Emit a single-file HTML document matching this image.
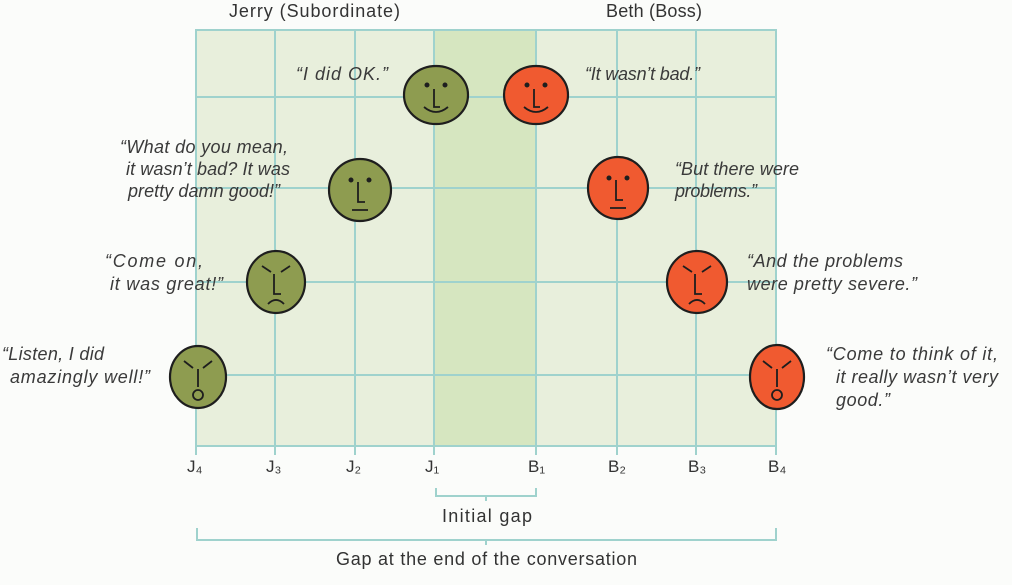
<!DOCTYPE html>
<html><head><meta charset="utf-8"><style>
body{margin:0;background:#fff;}
svg{display:block;}
text{font-family:"Liberation Sans",sans-serif;fill:#333;}
.q{font-style:italic;font-size:18px;fill:#3a3a3a;}
.t{font-size:18px;}
</style></head><body>
<svg width="1012" height="585" viewBox="0 0 1012 585">
<defs>
<g id="eyes"><circle cx="-9" cy="-10" r="1.6" fill="#222"/><circle cx="9" cy="-10" r="1.6" fill="#222"/></g>
</defs>
<rect x="0" y="0" width="1012" height="585" fill="#fbfcfa"/>
<rect x="196" y="30" width="580" height="416" fill="#e8efdc"/>
<rect x="434" y="30" width="102" height="416" fill="#d6e6c0"/>
<g stroke="#9fd2cd" stroke-width="2" fill="none">
<rect x="196" y="30" width="580" height="416"/>
<line x1="275" y1="30" x2="275" y2="455"/><line x1="355" y1="30" x2="355" y2="455"/>
<line x1="434" y1="30" x2="434" y2="455"/><line x1="536" y1="30" x2="536" y2="455"/>
<line x1="617" y1="30" x2="617" y2="455"/><line x1="696" y1="30" x2="696" y2="455"/>
<line x1="196" y1="446" x2="196" y2="455"/><line x1="776" y1="446" x2="776" y2="455"/>
<line x1="196" y1="97" x2="776" y2="97"/><line x1="196" y1="188" x2="776" y2="188"/>
<line x1="196" y1="282" x2="776" y2="282"/><line x1="196" y1="375" x2="776" y2="375"/>
<path d="M436 488 V496 H536 V488 M486 496 V501"/>
<path d="M197 528 V540 H776 V528 M486 540 V545"/>
</g>
<text class="t" x="229" y="17" textLength="171">Jerry (Subordinate)</text>
<text class="t" x="606" y="17" textLength="96">Beth (Boss)</text>
<g class="t" style="font-size:17px">
<text x="187" y="472">J₄</text><text x="266" y="472">J₃</text><text x="346" y="472">J₂</text><text x="425" y="472">J₁</text>
<text x="528" y="472">B₁</text><text x="608" y="472">B₂</text><text x="688" y="472">B₃</text><text x="768" y="472">B₄</text>
</g>
<text class="t" x="442" y="522" textLength="90">Initial gap</text>
<text class="t" x="336" y="565" textLength="301">Gap at the end of the conversation</text>
<g stroke="#1e1e1e" stroke-width="2.2">
<ellipse cx="436" cy="95" rx="32" ry="29" fill="#8e9c50"/>
<ellipse cx="536" cy="95" rx="32" ry="29" fill="#f05a30"/>
<ellipse cx="360" cy="190" rx="31" ry="31" fill="#8e9c50"/>
<ellipse cx="618" cy="188" rx="30" ry="31" fill="#f05a30"/>
<ellipse cx="276" cy="282" rx="29" ry="31" fill="#8e9c50"/>
<ellipse cx="697" cy="282" rx="30" ry="31" fill="#f05a30"/>
<ellipse cx="198" cy="377" rx="28" ry="31" fill="#8e9c50"/>
<ellipse cx="777" cy="377" rx="27" ry="32" fill="#f05a30"/>
</g>
<g stroke="#1e1e1e" stroke-width="1.8" fill="none">
<g transform="translate(436,95)"><use href="#eyes"/><path d="M-2 -6 V12 H4 M-12 12 Q0 22 12 12"/></g>
<g transform="translate(536,95)"><use href="#eyes"/><path d="M-2 -6 V12 H4 M-12 12 Q0 22 12 12"/></g>
<g transform="translate(360,190)"><use href="#eyes"/><path d="M-2 -8 V12 H5 M-8 20 H8"/></g>
<g transform="translate(618,188)"><use href="#eyes"/><path d="M-2 -8 V12 H5 M-8 20 H8"/></g>
<g transform="translate(276,282)"><path d="M-14 -16 L-5 -10 M14 -16 L5 -10 M-2 -8 V12 H5 M-8 22 Q0 14 8 22"/></g>
<g transform="translate(697,282)"><path d="M-14 -16 L-5 -10 M14 -16 L5 -10 M-2 -8 V12 H5 M-8 22 Q0 14 8 22"/></g>
<g transform="translate(198,377)"><path d="M-14 -16 L-5 -9 M14 -16 L5 -9 M0 -8 V10"/><circle cx="0" cy="18" r="5"/></g>
<g transform="translate(777,377)"><path d="M-14 -16 L-5 -9 M14 -16 L5 -9 M0 -8 V10"/><circle cx="0" cy="18" r="5"/></g>
</g>
<text class="q" x="296" y="80" textLength="92">“I did OK.”</text>
<text class="q" x="585" y="80" textLength="115">“It wasn’t bad.”</text>
<text class="q" x="120" y="153" textLength="168">“What do you mean,</text>
<text class="q" x="126" y="175" textLength="164">it wasn’t bad? It was</text>
<text class="q" x="128" y="197" textLength="152">pretty damn good!”</text>
<text class="q" x="675" y="175" textLength="124">“But there were</text>
<text class="q" x="675" y="197" textLength="82">problems.”</text>
<text class="q" x="105" y="267" textLength="98">“Come on,</text>
<text class="q" x="110" y="290" textLength="113">it was great!”</text>
<text class="q" x="747" y="267" textLength="156">“And the problems</text>
<text class="q" x="747" y="290" textLength="170">were pretty severe.”</text>
<text class="q" x="2" y="360" textLength="102">“Listen, I did</text>
<text class="q" x="10" y="383" textLength="140">amazingly well!”</text>
<text class="q" x="826" y="360" textLength="172">“Come to think of it,</text>
<text class="q" x="836" y="383" textLength="162">it really wasn’t very</text>
<text class="q" x="836" y="406" textLength="54">good.”</text>
</svg>
</body></html>
